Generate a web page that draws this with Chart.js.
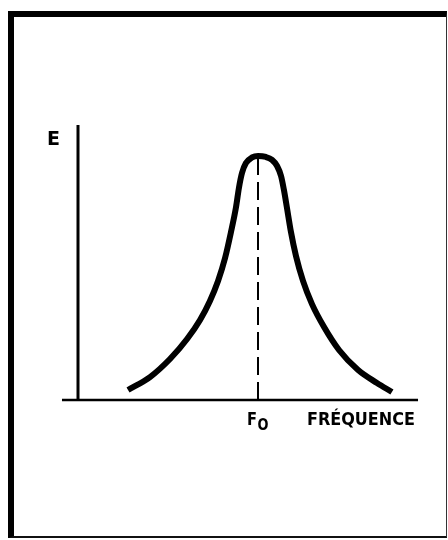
<!DOCTYPE html>
<html>
<head>
<meta charset="utf-8">
<script src="https://cdn.jsdelivr.net/npm/chart.js@4.4.1/dist/chart.umd.min.js"></script>
<style>
  html, body { margin: 0; padding: 0; background: #fff; overflow: hidden; }
  #wrap { position: relative; width: 448px; height: 540px; }
  canvas { position: absolute; left: 0; top: 0; }
  #frame {
    position: absolute; left: 8px; top: 11px; width: 432px; height: 519px;
    border-left: 6px solid #000; border-top: 6px solid #000;
    border-right: 1px solid #333; border-bottom: 2px solid #111;
    pointer-events: none;
  }
</style>
</head>
<body>
<div id="wrap">
  <canvas id="c" width="448" height="540"></canvas>
  <div id="frame"></div>
</div>
<script>
// Frequency (F0 = 100) and response E (peak = 1)
const frequency = [27.8, 40.0, 51.1, 60.6, 67.8, 73.3, 77.8, 81.7, 85.0, 87.8, 89.4, 91.1, 93.3, 96.7, 100,
                   104.4, 107.8, 110.6, 112.8, 114.4, 116.1, 118.3, 121.1, 125.0, 130.0, 136.7, 145.0, 155.6, 166.1, 174.4];
const energy    = [0.041, 0.094, 0.168, 0.250, 0.328, 0.406, 0.488, 0.582, 0.689, 0.791, 0.869, 0.930, 0.971, 0.994, 1.0,
                   0.996, 0.984, 0.959, 0.918, 0.861, 0.787, 0.689, 0.590, 0.488, 0.393, 0.299, 0.205, 0.123, 0.070, 0.033];
// Axes and the F0 marker
const yAxisX = [0, 0];
const yAxisY = [0, 1.127];
const xAxisX = [-8.9, 188.9];
const xAxisY = [0, 0];
const f0X = [100, 100];
const f0Y = [0, 1.0];
// Texts
const axisLabelY = 'E';
const f0Label = ['F', 'O'];
const axisLabelX = 'FRÉQUENCE';

function pts(xs, ys) { return xs.map((x, i) => ({ x: x, y: ys[i] })); }

const textPlugin = {
  id: 'texts',
  afterDraw(chart) {
    const ctx = chart.ctx;
    const xs = chart.scales.x, ys = chart.scales.y;
    ctx.save();
    ctx.fillStyle = '#000';
    ctx.textBaseline = 'alphabetic';
    ctx.textAlign = 'left';
    // E
    ctx.font = 'bold 20px "DejaVu Sans"';
    ctx.fillText(axisLabelY, xs.getPixelForValue(-17.2), ys.getPixelForValue(1.045), 13);
    // F0
    ctx.font = 'bold 17px "DejaVu Sans"';
    ctx.fillText(f0Label[0], xs.getPixelForValue(93.9), ys.getPixelForValue(-0.102), 10);
    ctx.font = 'bold 16px "DejaVu Sans"';
    ctx.fillText(f0Label[1], xs.getPixelForValue(99.7), ys.getPixelForValue(-0.123), 11);
    // FRÉQUENCE
    ctx.font = 'bold 17px "DejaVu Sans"';
    ctx.fillText(axisLabelX, xs.getPixelForValue(127.2), ys.getPixelForValue(-0.102), 108);
    ctx.restore();
  }
};

new Chart(document.getElementById('c'), {
  type: 'line',
  data: {
    datasets: [
      { data: pts(frequency, energy), borderColor: '#000', borderWidth: 6, pointRadius: 0, cubicInterpolationMode: 'monotone', borderCapStyle: 'butt', borderJoinStyle: 'round', fill: false },
      { data: pts(yAxisX, yAxisY), borderColor: '#000', borderWidth: 3, pointRadius: 0 },
      { data: pts(xAxisX, xAxisY), borderColor: '#000', borderWidth: 2.5, pointRadius: 0 },
      { data: pts(f0X, f0Y), borderColor: '#000', borderWidth: 2, borderDash: [18, 7], pointRadius: 0 }
    ]
  },
  options: {
    responsive: false,
    animation: false,
    events: [],
    layout: { padding: { left: 60, right: 28, top: 107.2, bottom: 140 } },
    scales: {
      x: { type: 'linear', min: -10, max: 190, display: false },
      y: { type: 'linear', min: 0, max: 1.2, display: false }
    },
    plugins: { legend: { display: false }, tooltip: { enabled: false } },
    elements: { line: { tension: 0 } },
    clip: false
  },
  plugins: [textPlugin]
});
</script>
</body>
</html>
